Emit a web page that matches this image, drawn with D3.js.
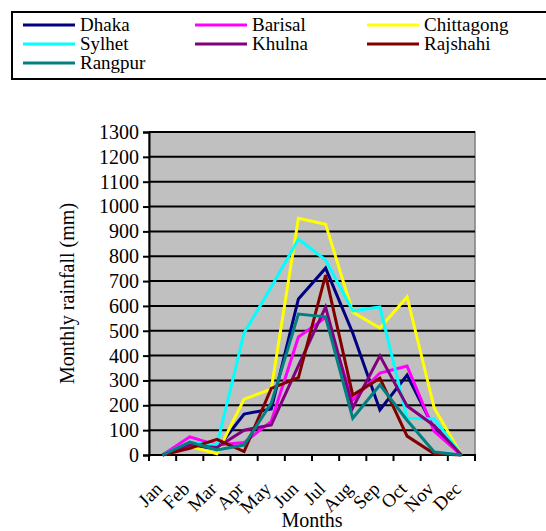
<!DOCTYPE html>
<html>
<head>
<meta charset="utf-8">
<script src="https://cdn.jsdelivr.net/npm/d3@7"></script>
<style>
  body { margin: 0; background: #fff; }
</style>
</head>
<body>
<svg id="chart" width="546" height="531"></svg>
<script>
// months and rainfall (mm) per station
const months = ['Jan', 'Feb', 'Mar', 'Apr', 'May', 'Jun', 'Jul', 'Aug', 'Sep', 'Oct', 'Nov', 'Dec'];
const yTicks = [0, 100, 200, 300, 400, 500, 600, 700, 800, 900, 1000, 1100, 1200, 1300];

const dhaka      = [0, 40, 25, 165, 185, 628, 752, 491, 181, 322, 105, 0];
const barisal    = [0, 73, 40, 50, 135, 475, 553, 221, 330, 358, 95, 0];
const chittagong = [0, 35, 5, 225, 265, 953, 929, 575, 511, 636, 189, 0];
const sylhet     = [0, 52, 40, 491, 676, 869, 785, 580, 596, 148, 145, 0];
const khulna     = [0, 40, 30, 100, 121, 360, 595, 190, 399, 197, 118, 0];
const rajshahi   = [0, 27, 63, 14, 268, 311, 724, 241, 309, 76, 5, 0];
const rangpur    = [0, 52, 20, 40, 209, 567, 556, 148, 282, 140, 12, 0];

const stations = ['Dhaka', 'Barisal', 'Chittagong', 'Sylhet', 'Khulna', 'Rajshahi', 'Rangpur'];
const colors = ['#000080', '#ff00ff', '#ffff00', '#00ffff', '#800080', '#800000', '#008080'];
const seriesValues = [dhaka, barisal, chittagong, sylhet, khulna, rajshahi, rangpur];

const FONT = '"Liberation Serif"';

const svg = d3.select('#chart');

// plot area
const plot = { left: 149, right: 475, top: 132, bottom: 455 };

const x = d3.scaleBand().domain(months).range([plot.left, plot.right]);
const y = d3.scaleLinear().domain([0, 1300]).range([plot.bottom, plot.top]);

svg.append('rect')
  .attr('x', plot.left).attr('y', plot.top)
  .attr('width', plot.right - plot.left).attr('height', plot.bottom - plot.top)
  .attr('fill', '#c0c0c0')
  .attr('stroke', '#808080')
  .attr('stroke-width', 1.5);

// grid lines
svg.append('g')
  .selectAll('line')
  .data(yTicks.filter(d => d > 0))
  .join('line')
  .attr('x1', plot.left).attr('x2', plot.right)
  .attr('y1', d => y(d)).attr('y2', d => y(d))
  .attr('stroke', '#000')
  .attr('stroke-width', 2);

// y axis
const yAxis = svg.append('g')
  .attr('transform', `translate(${plot.left},0)`)
  .call(d3.axisLeft(y).tickValues(yTicks).tickFormat(d3.format('d')).tickSize(6).tickPadding(4));
yAxis.attr('font-family', null).attr('font-size', null);
yAxis.select('.domain').attr('stroke-width', 2);
yAxis.selectAll('.tick line').attr('stroke-width', 2);
yAxis.selectAll('.tick text')
  .style('font-family', FONT)
  .style('font-size', '20px');

// x axis: ticks on category boundaries
const boundaries = months.map(m => x(m)).concat([plot.right]);
const xAxis = svg.append('g');
xAxis.append('line')
  .attr('x1', plot.left - 1).attr('x2', plot.right + 1)
  .attr('y1', plot.bottom).attr('y2', plot.bottom)
  .attr('stroke', '#000').attr('stroke-width', 2);
xAxis.selectAll('line.tk')
  .data(boundaries)
  .join('line')
  .attr('class', 'tk')
  .attr('x1', d => d).attr('x2', d => d)
  .attr('y1', plot.bottom).attr('y2', plot.bottom + 6)
  .attr('stroke', '#000').attr('stroke-width', 2);
xAxis.selectAll('text')
  .data(months)
  .join('text')
  .attr('text-anchor', 'end')
  .style('font-family', FONT)
  .style('font-size', '19px')
  .attr('transform', d => `translate(${x(d) + x.bandwidth() / 2 + 1},490) rotate(-45)`)
  .text(d => d);

// axis titles
svg.append('text')
  .attr('x', (plot.left + plot.right) / 2)
  .attr('y', 527)
  .attr('text-anchor', 'middle')
  .style('font-family', FONT)
  .style('font-size', '20px')
  .text('Months');

svg.append('text')
  .attr('transform', `translate(74,${(plot.top + plot.bottom) / 2}) rotate(-90)`)
  .attr('text-anchor', 'middle')
  .style('font-family', FONT)
  .style('font-size', '20px')
  .text('Monthly rainfall (mm)');

// lines
const line = d3.line()
  .x((d, i) => x(months[i]) + x.bandwidth() / 2)
  .y(d => y(d));

svg.append('g')
  .selectAll('path')
  .data(seriesValues)
  .join('path')
  .attr('d', d => line(d))
  .attr('fill', 'none')
  .attr('stroke', (d, i) => colors[i])
  .attr('stroke-width', 3)
  .attr('stroke-linejoin', 'miter');

// legend
svg.append('rect')
  .attr('x', 12).attr('y', 12)
  .attr('width', 560).attr('height', 67)
  .attr('fill', '#fff')
  .attr('stroke', '#000')
  .attr('stroke-width', 2);

const colX = [23, 195, 367];
const rowY = [25, 44, 63];
const legend = svg.append('g')
  .selectAll('g')
  .data(stations)
  .join('g')
  .attr('transform', (d, i) => `translate(${colX[i % 3]},${rowY[Math.floor(i / 3)]})`);
legend.append('line')
  .attr('x1', 0).attr('x2', 52)
  .attr('stroke', (d, i) => colors[i])
  .attr('stroke-width', 3);
legend.append('text')
  .attr('x', 57)
  .attr('dy', '0.33em')
  .style('font-family', FONT)
  .style('font-size', '19px')
  .text(d => d);
</script>
</body>
</html>
